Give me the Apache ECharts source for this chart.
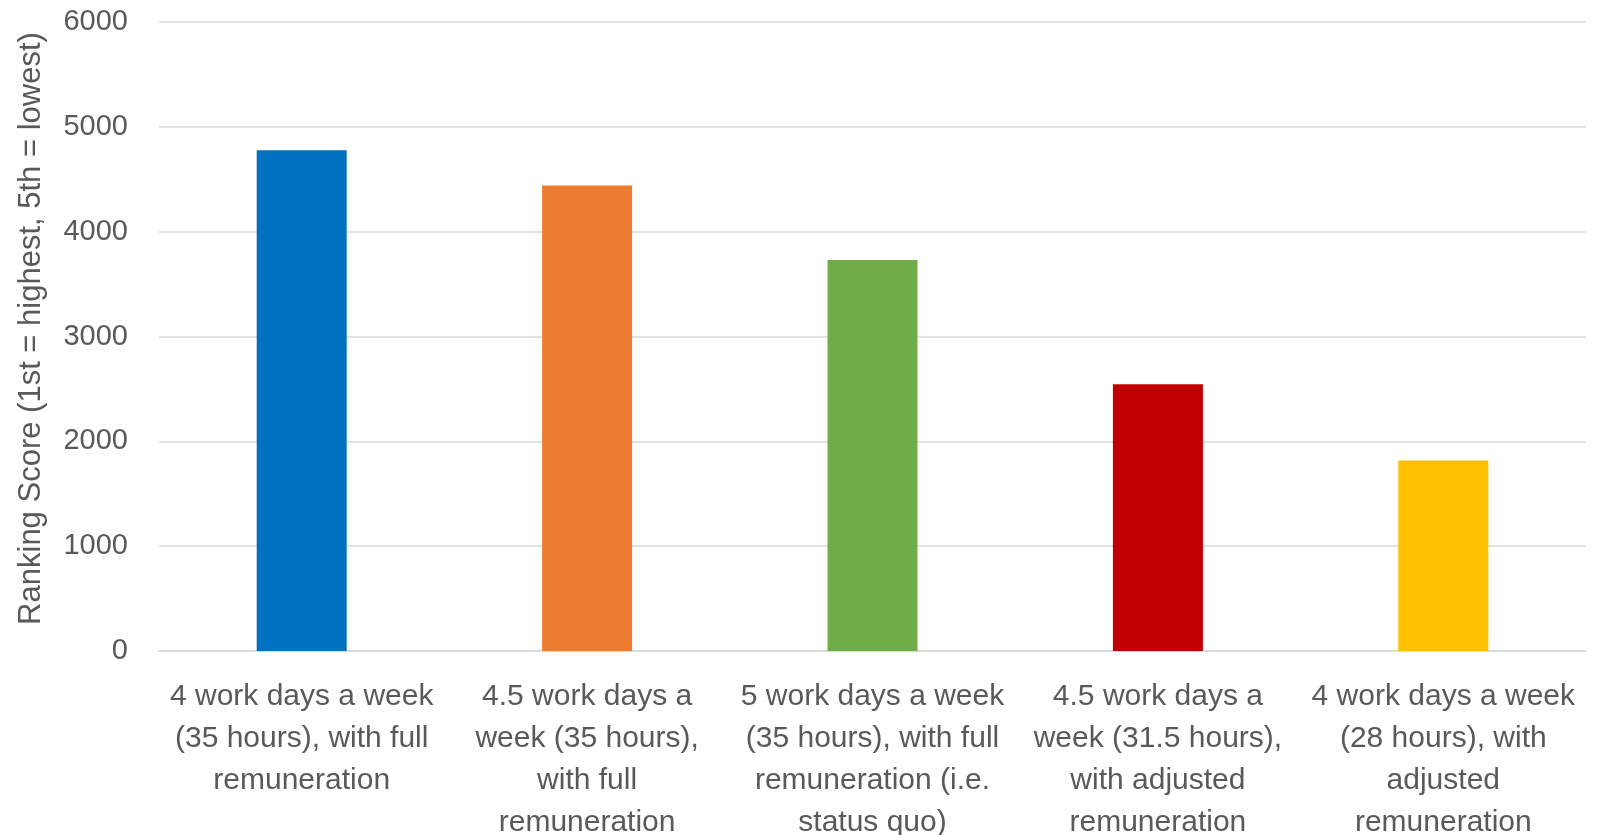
<!DOCTYPE html>
<html>
<head>
<meta charset="utf-8">
<script src="https://cdn.jsdelivr.net/npm/echarts@6/dist/echarts.min.js"></script>
<style>
  html, body { margin: 0; padding: 0; background: #fff; }
  #chart { width: 1603px; height: 835px; }
</style>
</head>
<body>
<div id="chart"></div>
<script>
  // categories (line breaks as in the original chart)
  var categories = [
    '4 work days a week\n(35 hours), with full\nremuneration',
    '4.5 work days a\nweek (35 hours),\nwith full\nremuneration',
    '5 work days a week\n(35 hours), with full\nremuneration (i.e.\nstatus quo)',
    '4.5 work days a\nweek (31.5 hours),\nwith adjusted\nremuneration',
    '4 work days a week\n(28 hours), with\nadjusted\nremuneration'
  ];
  var scores = [4776, 4441, 3730, 2544, 1817];
  var barColors = ['#0070C0', '#ED7D31', '#70AD47', '#C00000', '#FFC000'];
  var yTicks = [0, 1000, 2000, 3000, 4000, 5000, 6000];

  var chart = echarts.init(document.getElementById('chart'));

  chart.setOption({
    animation: false,
    grid: {
      left: 159,
      right: 17,
      top: 22,
      bottom: 184,
      outerBoundsMode: 'none'
    },
    xAxis: {
      type: 'category',
      data: categories,
      axisTick: { show: false },
      axisLine: { lineStyle: { color: '#D9D9D9', width: 1.5 } },
      axisLabel: {
        interval: 0,
        margin: 25,
        color: '#595959',
        fontFamily: 'Liberation Sans',
        fontSize: 30,
        lineHeight: 42,
        align: 'center'
      }
    },
    yAxis: {
      type: 'value',
      min: yTicks[0],
      max: yTicks[yTicks.length - 1],
      interval: 1000,
      name: 'Ranking Score (1st = highest, 5th = lowest)',
      nameLocation: 'middle',
      nameGap: 112,
      nameTextStyle: {
        color: '#595959',
        fontFamily: 'Liberation Sans',
        fontSize: 31,
        padding: [0, 0, 0, 16]
      },
      axisLine: { show: false },
      axisTick: { show: false },
      splitLine: { lineStyle: { color: '#D9D9D9', width: 1.5 } },
      axisLabel: {
        margin: 31,
        color: '#595959',
        fontFamily: 'Liberation Sans',
        fontSize: 29,
        formatter: function (v) { return String(v); }
      }
    },
    series: [
      {
        type: 'bar',
        barWidth: 90,
        data: scores.map(function (v, i) {
          return { value: v, itemStyle: { color: barColors[i] } };
        })
      }
    ]
  });
</script>
</body>
</html>
